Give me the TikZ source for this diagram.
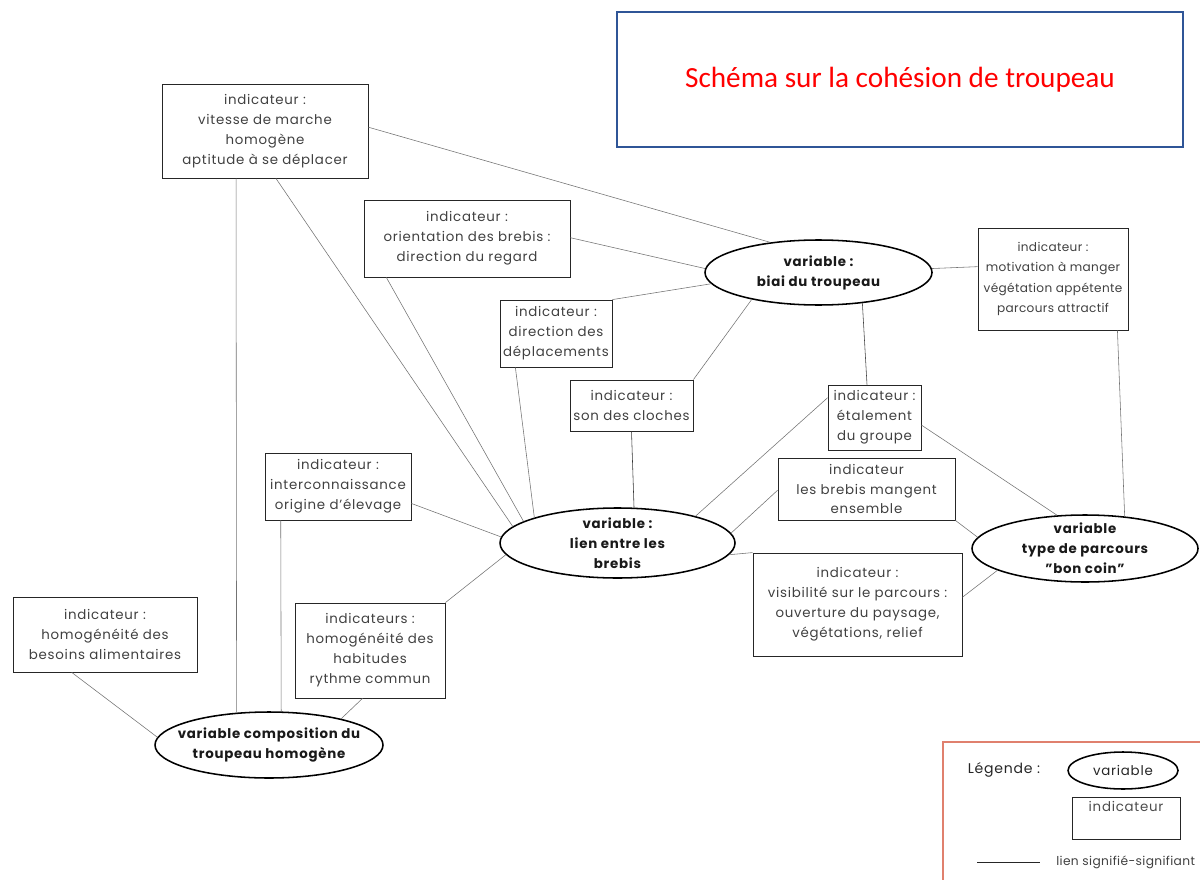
\documentclass[tikz,border=0pt]{standalone}
\usepackage{fontspec}
\setmainfont{Poppins}[LetterSpace=5.5]
\newfontfamily\titlefont{Carlito}
\newfontfamily\tightfont{Poppins}[LetterSpace=3]
\usetikzlibrary{calc,shapes.geometric}
\newdimen\pxu \pxu=0.025cm
\definecolor{titleblue}{HTML}{2F5597}
\definecolor{legred}{HTML}{E0806E}
\begin{document}
\begin{tikzpicture}[x=0.025cm,y=-0.025cm,
  ind/.style={draw=black!85, line width=0.6pt, align=center, inner sep=0pt,
    font=\fontsize{9.5}{14.2}\selectfont, text=black!75},
  var/.style={ellipse, draw=black, line width=1.1pt, inner sep=0pt},
  vartxt/.style={align=center, inner sep=0pt, font=\fontsize{9.5}{14.2}\selectfont\bfseries, text=black!90},
  lnk/.style={draw=black!55, line width=0.4pt}]
\useasboundingbox (0,0) rectangle (1200,879);

% title
\node[draw=titleblue, line width=1.4pt, minimum width=566\pxu, minimum height=135\pxu, inner sep=0pt,
  font=\titlefont\fontsize{20.8}{22}\selectfont, text=red] (title) at (900,79.5) {Schéma sur la cohésion de troupeau};

% indicator boxes
\node[ind, minimum width=206\pxu, minimum height=94\pxu] (A) at (265,131) {indicateur :\\vitesse de marche\\homogène\\aptitude à se déplacer};
\node[ind, minimum width=206\pxu, minimum height=77\pxu] (B) at (467,238.5) {indicateur :\\orientation des brebis :\\direction du regard};
\node[ind, minimum width=150\pxu, minimum height=102\pxu, font=\tightfont\fontsize{8.6}{14.4}\selectfont] (mot) at (1053,279) {indicateur :\\motivation à manger\\végétation appétente\\parcours attractif};
\node[ind, minimum width=112\pxu, minimum height=67\pxu] (dd) at (556,333.5) {indicateur :\\direction des\\déplacements};
\node[ind, minimum width=123\pxu, minimum height=51\pxu] (son) at (631.5,405.5) {indicateur :\\son des cloches};
\node[ind, minimum width=93\pxu, minimum height=65\pxu] (eta) at (874.5,417.5) {indicateur :\\étalement\\du groupe};
\node[ind, minimum width=146\pxu, minimum height=67\pxu] (inter) at (338,486.5) {indicateur :\\interconnaissance\\origine d'élevage};
\node[ind, minimum width=177\pxu, minimum height=62\pxu] (mang) at (866.5,489) {indicateur\\les brebis mangent\\ensemble};
\node[ind, minimum width=209\pxu, minimum height=103\pxu] (vis) at (857.5,604.5) {indicateur :\\visibilité sur le parcours :\\ouverture du paysage,\\végétations, relief};
\node[ind, minimum width=184\pxu, minimum height=75\pxu] (bes) at (105,634.5) {indicateur :\\homogénéité des\\besoins alimentaires};
\node[ind, minimum width=150\pxu, minimum height=95\pxu] (hab) at (370,650.5) {indicateurs :\\homogénéité des\\habitudes\\rythme commun};

% variables
\node[var, minimum width=227\pxu, minimum height=65\pxu] (biai) at (818.5,272.5) {};
\node[vartxt] (biait) at (biai) {variable :\\biai du troupeau};
\node[var, minimum width=235\pxu, minimum height=70\pxu] (lien) at (617.5,543) {};
\node[vartxt] (lient) at (lien) {variable :\\lien entre les\\brebis};
\node[var, minimum width=226\pxu, minimum height=67\pxu] (bon) at (1085,548.5) {};
\node[vartxt] (bont) at (bon) {variable\\type de parcours\\"bon coin"};
\node[var, minimum width=228\pxu, minimum height=66\pxu] (comp) at (269,745) {};
\node[vartxt] (compt) at (comp) {variable composition du\\troupeau homogène};

% connectors
\draw[lnk] ($(A.north east)!0.46!(A.south east)$) -- (biai.148);
\draw[lnk] ($(A.south west)!0.36!(A.south east)$) -- (comp.135);
\draw[lnk] ($(A.south west)!0.553!(A.south east)$) -- (lien.171);
\draw[lnk] ($(B.south west)!0.11!(B.south east)$) -- (lien.167);
\draw[lnk] ($(B.north east)!0.49!(B.south east)$) -- (biai.178);
\draw[lnk] (dd.north east) -- (biai.186);
\draw[lnk] ($(dd.south west)!0.14!(dd.south east)$) -- (lien.163);
\draw[lnk, draw=black!80] (son.south) -- (lien.65);
\draw[lnk] (son.north east) -- (biai.202);
\draw[lnk, draw=black!75] (biai.325) -- ($(eta.north west)!0.42!(eta.north east)$);
\draw[lnk] (biai.2) -- ($(mot.north west)!0.38!(mot.south west)$);
\draw[lnk] ($(mot.south west)!0.927!(mot.south east)$) -- (bon.39);
\draw[lnk] ($(eta.north west)!0.2!(eta.south west)$) -- (lien.19);
\draw[lnk] ($(eta.north east)!0.615!(eta.south east)$) -- (bon.130);
\draw[lnk] ($(mang.north west)!0.52!(mang.south west)$) -- (lien.5);
\draw[lnk] (mang.south east) -- (bon.174);
\draw[lnk] (lien.354) -- (vis.north west);
\draw[lnk] ($(vis.north east)!0.43!(vis.south east)$) -- (bon.194);
\draw[lnk] ($(inter.north east)!0.75!(inter.south east)$) -- (lien.177);
\draw[lnk] ($(inter.south west)!0.11!(inter.south east)$) -- (comp.70);
\draw[lnk] (hab.north east) -- (lien.186);
\draw[lnk] ($(hab.south west)!0.45!(hab.south east)$) -- (comp.20);
\draw[lnk] ($(bes.south west)!0.32!(bes.south east)$) -- (comp.176);

% legend
\draw[legred, line width=1.1pt] (943,742) rectangle (1210,890);
\node[font=\fontsize{10}{12}\selectfont, text=black!85, inner sep=0pt] (legt) at (1004,770) {Légende :};
\node[var, minimum width=110\pxu, minimum height=37\pxu] (legv) at (1123,770.5) {};
\node[vartxt, font=\fontsize{9.5}{12}\selectfont, text=black!85] (legvt) at (legv) {variable};
\node[draw=black!85, line width=0.6pt, minimum width=108\pxu, minimum height=42\pxu, inner sep=0pt] (legi) at (1126,818) {};
\node[font=\fontsize{9.5}{12}\selectfont, text=black!70, inner sep=0pt] (legit) at (1126,806) {indicateur};
\coordinate (l1) at (977,862);
\coordinate (l2) at (1040,862);
\draw[black!85, line width=0.6pt] (l1) -- (l2);
\node[anchor=west, font=\tightfont\fontsize{8.7}{12}\selectfont, text=black!75, inner sep=0pt] (legl) at (1056,862) {lien signifié-signifiant};
\end{tikzpicture}
\end{document}
